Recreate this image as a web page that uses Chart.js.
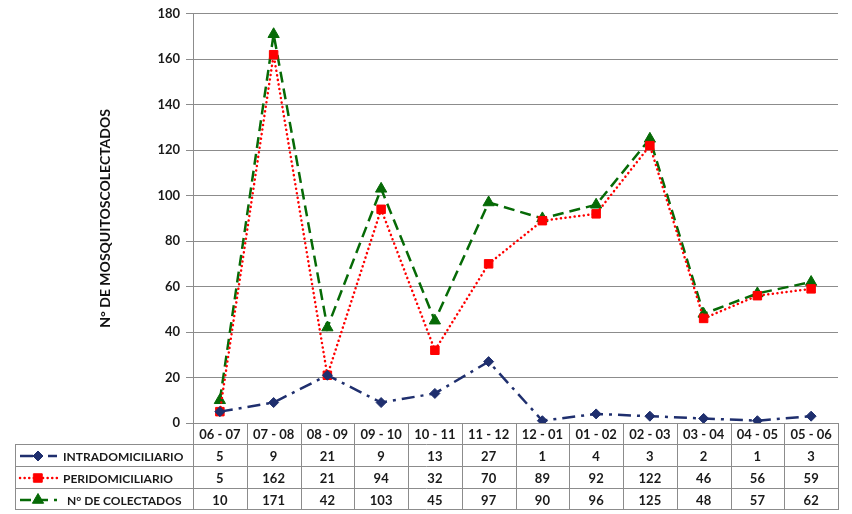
<!DOCTYPE html>
<html>
<head>
<meta charset="utf-8">
<script src="https://cdn.jsdelivr.net/npm/chart.js@4"></script>
<style>
  html, body { margin: 0; padding: 0; background: #fff; }
  #wrap { width: 852px; height: 514px; }
</style>
</head>
<body>
<div id="wrap"><canvas id="myChart" width="852" height="514"></canvas></div>
<script>
const periods = ["06 - 07", "07 - 08", "08 - 09", "09 - 10", "10 - 11", "11 - 12",
                 "12 - 01", "01 - 02", "02 - 03", "03 - 04", "04 - 05", "05 - 06"];
const intradomiciliario = [5, 9, 21, 9, 13, 27, 1, 4, 3, 2, 1, 3];
const peridomiciliario = [5, 162, 21, 94, 32, 70, 89, 92, 122, 46, 56, 59];
const colectados = [10, 171, 42, 103, 45, 97, 90, 96, 125, 48, 57, 62];
const seriesNames = ["INTRADOMICILIARIO", "PERIDOMICILIARIO", "N° DE COLECTADOS"];
const yTitle = "N° DE MOSQUITOSCOLECTADOS";

const navy = "#1F2F6E";
const red = "#FF0000";
const green = "#066A06";
const gridColor = "#8C8C8C";
const fontFam = "Lato, 'Open Sans', sans-serif";

// draws the excel-like data table under the plot
const dataTable = {
  id: "dataTable",
  afterDraw(chart) {
    const { ctx, chartArea: { right, bottom } } = chart;
    const x = chart.scales.x;
    const rowH = 22;
    const tableLeft = 15;
    const rows = [intradomiciliario, peridomiciliario, colectados];
    ctx.save();
    ctx.strokeStyle = gridColor;
    ctx.lineWidth = 1;
    ctx.setLineDash([]);
    // horizontal lines
    for (let r = 1; r <= 4; r++) {
      const y = Math.round(bottom + r * rowH) - 0.5 + (r == 4 ? -1 : 0);
      ctx.beginPath();
      ctx.moveTo(tableLeft, y);
      ctx.lineTo(right, y);
      ctx.stroke();
    }
    // vertical lines
    const half = (x.getPixelForValue(1) - x.getPixelForValue(0)) / 2;
    for (let i = 0; i <= periods.length; i++) {
      const vx = Math.round(x.getPixelForValue(0) - half + i * half * 2) + 0.5;
      ctx.beginPath();
      ctx.moveTo(vx, bottom);
      ctx.lineTo(vx, bottom + 4 * rowH - 1);
      ctx.stroke();
    }
    ctx.beginPath();
    ctx.moveTo(tableLeft + 0.5, bottom + rowH);
    ctx.lineTo(tableLeft + 0.5, bottom + 4 * rowH - 1);
    ctx.stroke();

    ctx.fillStyle = "#1a1a1a";
    ctx.font = "bold 13px " + fontFam;
    ctx.textAlign = "center";
    ctx.textBaseline = "middle";
    periods.forEach((p, i) => {
      ctx.fillText(p, x.getPixelForValue(i), bottom + rowH / 2 + 1);
    });
    rows.forEach((vals, r) => {
      vals.forEach((v, i) => {
        ctx.fillText(String(v), x.getPixelForValue(i), bottom + rowH * (r + 1.5) + 1);
      });
    });

    // legend keys in the first column
    ctx.textAlign = "left";
    ctx.font = "bold 12px " + fontFam;
    chart.data.datasets.forEach((ds, r) => {
      const cy = bottom + rowH * (r + 1.5);
      ctx.save();
      ctx.strokeStyle = ds.borderColor;
      ctx.lineWidth = 2.5;
      ctx.lineCap = r == 1 ? "round" : "butt";
      ctx.setLineDash(ds.borderDash);
      ctx.beginPath();
      ctx.moveTo(20, cy);
      ctx.lineTo(57, cy);
      ctx.stroke();
      ctx.setLineDash([]);
      ctx.fillStyle = ds.backgroundColor;
      ctx.strokeStyle = ds.borderColor;
      ctx.lineWidth = 1;
      Chart.helpers.drawPoint(ctx, {
        pointStyle: ds.pointStyle,
        radius: ds.pointRadius,
        rotation: 0,
        borderWidth: 1
      }, 38, cy);
      ctx.restore();
      ctx.fillStyle = "#1a1a1a";
      ctx.fillText(seriesNames[r], r == 2 ? 67 : 63, cy + 1);
    });
    ctx.restore();
  }
};

const data = {
  labels: periods,
  datasets: [
    {
      label: seriesNames[0],
      data: intradomiciliario,
      borderColor: navy,
      backgroundColor: navy,
      borderWidth: 2.5,
      borderDash: [13, 6, 3, 6],
      pointStyle: "rectRot",
      pointRadius: 5,
      pointBorderWidth: 1,
      tension: 0
    },
    {
      label: seriesNames[1],
      data: peridomiciliario,
      borderColor: red,
      backgroundColor: red,
      borderWidth: 2.5,
      borderDash: [0.1, 4.5],
      borderCapStyle: "round",
      pointStyle: "rect",
      pointRadius: 6,
      pointBorderWidth: 1,
      tension: 0
    },
    {
      label: seriesNames[2],
      data: colectados,
      borderColor: green,
      backgroundColor: green,
      borderWidth: 2.5,
      borderDash: [11, 6],
      pointStyle: "triangle",
      pointRadius: 6.5,
      pointBorderWidth: 1,
      tension: 0
    }
  ]
};

const config = {
  type: "line",
  data: data,
  options: {
    responsive: false,
    animation: false,
    layout: { padding: { left: 0, top: 0, right: 14, bottom: 91 } },
    plugins: {
      legend: { display: false },
      tooltip: { enabled: false }
    },
    scales: {
      x: {
        type: "category",
        offset: true,
        display: false
      },
      y: {
        min: 0,
        max: 180,
        ticks: {
          stepSize: 20,
          color: "#1a1a1a",
          font: { family: fontFam, size: 13, weight: "bold" },
          padding: 6
        },
        grid: {
          color: gridColor,
          lineWidth: 1,
          tickLength: 7,
          drawTicks: true
        },
        border: { color: gridColor, width: 1 },
        title: {
          display: true,
          text: yTitle,
          color: "#111",
          font: { family: fontFam, size: 14, weight: "bold" },
          padding: { top: 97, bottom: 0 }
        },
        afterFit(scale) {
          scale.width = 193;
        }
      }
    }
  },
  plugins: [dataTable]
};

const myChart = new Chart(document.getElementById("myChart"), config);
</script>
</body>
</html>
